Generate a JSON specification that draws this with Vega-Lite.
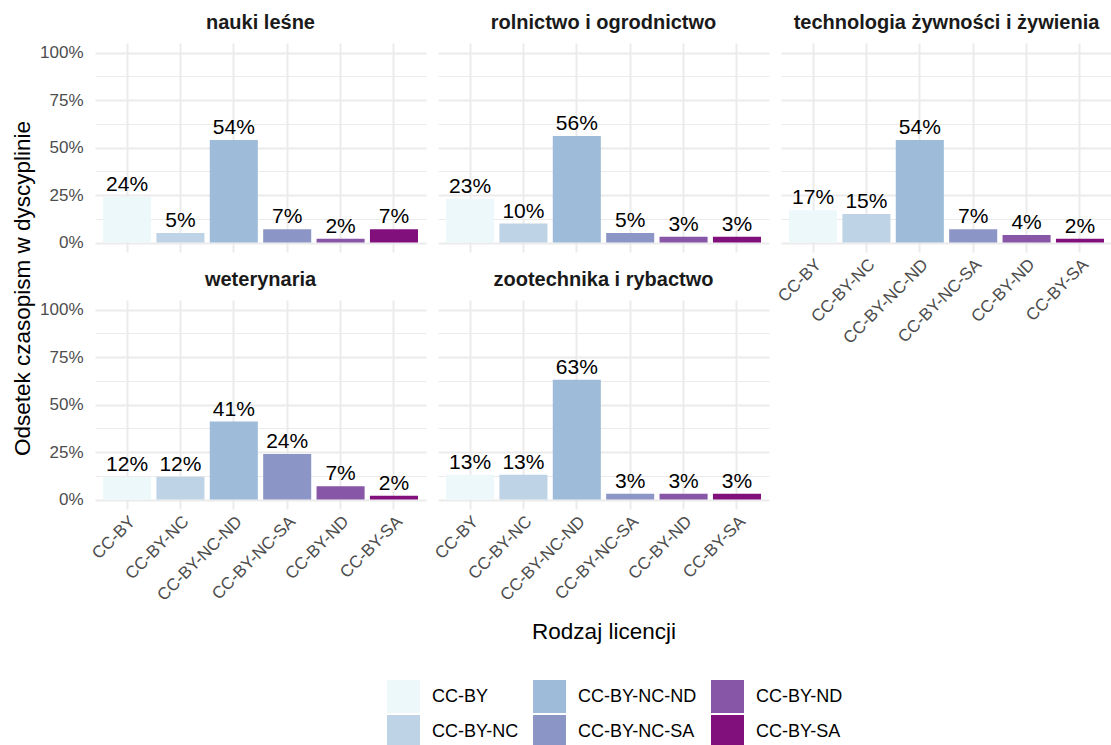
{
  "$schema": "https://vega.github.io/schema/vega-lite/v6.json",
  "background": "white",
  "padding": {"left": 10, "top": 13, "right": 0, "bottom": 0},
  "bounds": "flush",
  "columns": 3,
  "spacing": {"row": 48, "column": 12},
  "data": {"values": [
    {"d": "nauki leśne", "lic": "CC-BY", "v": 0.24},
    {"d": "nauki leśne", "lic": "CC-BY-NC", "v": 0.05},
    {"d": "nauki leśne", "lic": "CC-BY-NC-ND", "v": 0.54},
    {"d": "nauki leśne", "lic": "CC-BY-NC-SA", "v": 0.07},
    {"d": "nauki leśne", "lic": "CC-BY-ND", "v": 0.02},
    {"d": "nauki leśne", "lic": "CC-BY-SA", "v": 0.07},
    {"d": "rolnictwo i ogrodnictwo", "lic": "CC-BY", "v": 0.23},
    {"d": "rolnictwo i ogrodnictwo", "lic": "CC-BY-NC", "v": 0.10},
    {"d": "rolnictwo i ogrodnictwo", "lic": "CC-BY-NC-ND", "v": 0.56},
    {"d": "rolnictwo i ogrodnictwo", "lic": "CC-BY-NC-SA", "v": 0.05},
    {"d": "rolnictwo i ogrodnictwo", "lic": "CC-BY-ND", "v": 0.03},
    {"d": "rolnictwo i ogrodnictwo", "lic": "CC-BY-SA", "v": 0.03},
    {"d": "technologia żywności i żywienia", "lic": "CC-BY", "v": 0.17},
    {"d": "technologia żywności i żywienia", "lic": "CC-BY-NC", "v": 0.15},
    {"d": "technologia żywności i żywienia", "lic": "CC-BY-NC-ND", "v": 0.54},
    {"d": "technologia żywności i żywienia", "lic": "CC-BY-NC-SA", "v": 0.07},
    {"d": "technologia żywności i żywienia", "lic": "CC-BY-ND", "v": 0.04},
    {"d": "technologia żywności i żywienia", "lic": "CC-BY-SA", "v": 0.02},
    {"d": "weterynaria", "lic": "CC-BY", "v": 0.12},
    {"d": "weterynaria", "lic": "CC-BY-NC", "v": 0.12},
    {"d": "weterynaria", "lic": "CC-BY-NC-ND", "v": 0.41},
    {"d": "weterynaria", "lic": "CC-BY-NC-SA", "v": 0.24},
    {"d": "weterynaria", "lic": "CC-BY-ND", "v": 0.07},
    {"d": "weterynaria", "lic": "CC-BY-SA", "v": 0.02},
    {"d": "zootechnika i rybactwo", "lic": "CC-BY", "v": 0.13},
    {"d": "zootechnika i rybactwo", "lic": "CC-BY-NC", "v": 0.13},
    {"d": "zootechnika i rybactwo", "lic": "CC-BY-NC-ND", "v": 0.63},
    {"d": "zootechnika i rybactwo", "lic": "CC-BY-NC-SA", "v": 0.03},
    {"d": "zootechnika i rybactwo", "lic": "CC-BY-ND", "v": 0.03},
    {"d": "zootechnika i rybactwo", "lic": "CC-BY-SA", "v": 0.03}
  ]},
  "concat": [
    {
      "title": "nauki leśne",
      "width": 331, "height": 209,
      "transform": [{"filter": {"field": "d", "equal": "nauki leśne"}}],
      "encoding": {
        "x": {"field": "lic", "type": "nominal", "sort": ["CC-BY", "CC-BY-NC", "CC-BY-NC-ND", "CC-BY-NC-SA", "CC-BY-ND", "CC-BY-SA"],
          "scale": {"paddingInner": 0.1, "paddingOuter": 0.15},
          "axis": {"title": null, "labels": false, "bandPosition": 0.5, "grid": true, "gridColor": "#ebebeb", "gridWidth": 2, "ticks": false, "domain": false}},
        "y": {"field": "v", "type": "quantitative", "scale": {"domain": [-0.05, 1.05], "nice": false, "zero": false},
          "axis": {"title": "Odsetek czasopism w dyscyplinie", "titleX": -66, "titleY": 245, "titleBaseline": "alphabetic", "titleAlign": "center", "titleFontSize": 22.5, "titleFontWeight": "normal", "titleColor": "black", "titleFont": "Liberation Sans",
            "values": [0, 0.125, 0.25, 0.375, 0.5, 0.625, 0.75, 0.875, 1],
            "labelExpr": "round(datum.value*8) % 2 == 1 ? '' : format(datum.value, '.0%')",
            "gridColor": "#ebebeb", "gridWidth": {"condition": {"test": "round(datum.value*8) % 2 == 1", "value": 1}, "value": 2},
            "ticks": false, "domain": false, "labelPadding": 12, "labelFontSize": 17, "labelColor": "#4d4d4d", "labelFont": "Liberation Sans"}}
      },
      "layer": [
        {"mark": {"type": "bar"}, "encoding": {"y2": {"datum": 0},
          "color": {"field": "lic", "type": "nominal",
            "scale": {"domain": ["CC-BY", "CC-BY-NC", "CC-BY-NC-ND", "CC-BY-NC-SA", "CC-BY-ND", "CC-BY-SA"], "range": ["#edf8fb", "#bfd3e6", "#9ebcda", "#8c96c6", "#8856a7", "#810f7c"]},
            "legend": {"title": null, "orient": "none", "legendX": 292, "legendY": 637, "columns": 3, "symbolType": "square", "symbolSize": 1089, "symbolStrokeWidth": 0, "symbolOpacity": 1, "labelFontSize": 18, "labelFont": "Liberation Sans", "labelColor": "black", "labelOffset": 12, "columnPadding": 14, "rowPadding": 2}}}},
        {"mark": {"type": "text", "baseline": "alphabetic", "dy": -6, "fontSize": 21, "font": "Liberation Sans", "color": "black"},
          "encoding": {"text": {"field": "v", "type": "quantitative", "format": ".0%"}}}
      ]
    },
    {
      "title": "rolnictwo i ogrodnictwo",
      "width": 331, "height": 209,
      "transform": [{"filter": {"field": "d", "equal": "rolnictwo i ogrodnictwo"}}],
      "encoding": {
        "x": {"field": "lic", "type": "nominal", "sort": ["CC-BY", "CC-BY-NC", "CC-BY-NC-ND", "CC-BY-NC-SA", "CC-BY-ND", "CC-BY-SA"],
          "scale": {"paddingInner": 0.1, "paddingOuter": 0.15},
          "axis": {"title": null, "labels": false, "bandPosition": 0.5, "grid": true, "gridColor": "#ebebeb", "gridWidth": 2, "ticks": false, "domain": false}},
        "y": {"field": "v", "type": "quantitative", "scale": {"domain": [-0.05, 1.05], "nice": false, "zero": false},
          "axis": {"title": null, "labels": false, "values": [0, 0.125, 0.25, 0.375, 0.5, 0.625, 0.75, 0.875, 1],
            "gridColor": "#ebebeb", "gridWidth": {"condition": {"test": "round(datum.value*8) % 2 == 1", "value": 1}, "value": 2},
            "ticks": false, "domain": false}}
      },
      "layer": [
        {"mark": {"type": "bar"}, "encoding": {"y2": {"datum": 0},
          "color": {"field": "lic", "type": "nominal",
            "scale": {"domain": ["CC-BY", "CC-BY-NC", "CC-BY-NC-ND", "CC-BY-NC-SA", "CC-BY-ND", "CC-BY-SA"], "range": ["#edf8fb", "#bfd3e6", "#9ebcda", "#8c96c6", "#8856a7", "#810f7c"]},
            "legend": {"title": null, "orient": "none", "legendX": 292, "legendY": 637, "columns": 3, "symbolType": "square", "symbolSize": 1089, "symbolStrokeWidth": 0, "symbolOpacity": 1, "labelFontSize": 18, "labelFont": "Liberation Sans", "labelColor": "black", "labelOffset": 12, "columnPadding": 14, "rowPadding": 2}}}},
        {"mark": {"type": "text", "baseline": "alphabetic", "dy": -6, "fontSize": 21, "font": "Liberation Sans", "color": "black"},
          "encoding": {"text": {"field": "v", "type": "quantitative", "format": ".0%"}}}
      ]
    },
    {
      "title": "technologia żywności i żywienia",
      "width": 331, "height": 209,
      "transform": [{"filter": {"field": "d", "equal": "technologia żywności i żywienia"}}],
      "encoding": {
        "x": {"field": "lic", "type": "nominal", "sort": ["CC-BY", "CC-BY-NC", "CC-BY-NC-ND", "CC-BY-NC-SA", "CC-BY-ND", "CC-BY-SA"],
          "scale": {"paddingInner": 0.1, "paddingOuter": 0.15},
          "axis": {"title": null, "bandPosition": 0.5, "grid": true, "gridColor": "#ebebeb", "gridWidth": 2, "ticks": false, "domain": false, "labelAngle": -45, "labelAlign": "right", "labelBaseline": "top", "labelPadding": 4, "labelFontSize": 17, "labelColor": "#4d4d4d", "labelFont": "Liberation Sans"}},
        "y": {"field": "v", "type": "quantitative", "scale": {"domain": [-0.05, 1.05], "nice": false, "zero": false},
          "axis": {"title": null, "labels": false, "values": [0, 0.125, 0.25, 0.375, 0.5, 0.625, 0.75, 0.875, 1],
            "gridColor": "#ebebeb", "gridWidth": {"condition": {"test": "round(datum.value*8) % 2 == 1", "value": 1}, "value": 2},
            "ticks": false, "domain": false}}
      },
      "layer": [
        {"mark": {"type": "bar"}, "encoding": {"y2": {"datum": 0},
          "color": {"field": "lic", "type": "nominal",
            "scale": {"domain": ["CC-BY", "CC-BY-NC", "CC-BY-NC-ND", "CC-BY-NC-SA", "CC-BY-ND", "CC-BY-SA"], "range": ["#edf8fb", "#bfd3e6", "#9ebcda", "#8c96c6", "#8856a7", "#810f7c"]},
            "legend": {"title": null, "orient": "none", "legendX": 292, "legendY": 637, "columns": 3, "symbolType": "square", "symbolSize": 1089, "symbolStrokeWidth": 0, "symbolOpacity": 1, "labelFontSize": 18, "labelFont": "Liberation Sans", "labelColor": "black", "labelOffset": 12, "columnPadding": 14, "rowPadding": 2}}}},
        {"mark": {"type": "text", "baseline": "alphabetic", "dy": -6, "fontSize": 21, "font": "Liberation Sans", "color": "black"},
          "encoding": {"text": {"field": "v", "type": "quantitative", "format": ".0%"}}}
      ]
    },
    {
      "title": "weterynaria",
      "width": 331, "height": 209,
      "transform": [{"filter": {"field": "d", "equal": "weterynaria"}}],
      "encoding": {
        "x": {"field": "lic", "type": "nominal", "sort": ["CC-BY", "CC-BY-NC", "CC-BY-NC-ND", "CC-BY-NC-SA", "CC-BY-ND", "CC-BY-SA"],
          "scale": {"paddingInner": 0.1, "paddingOuter": 0.15},
          "axis": {"title": null, "bandPosition": 0.5, "grid": true, "gridColor": "#ebebeb", "gridWidth": 2, "ticks": false, "domain": false, "labelAngle": -45, "labelAlign": "right", "labelBaseline": "top", "labelPadding": 4, "labelFontSize": 17, "labelColor": "#4d4d4d", "labelFont": "Liberation Sans"}},
        "y": {"field": "v", "type": "quantitative", "scale": {"domain": [-0.05, 1.05], "nice": false, "zero": false},
          "axis": {"title": null,
            "values": [0, 0.125, 0.25, 0.375, 0.5, 0.625, 0.75, 0.875, 1],
            "labelExpr": "round(datum.value*8) % 2 == 1 ? '' : format(datum.value, '.0%')",
            "gridColor": "#ebebeb", "gridWidth": {"condition": {"test": "round(datum.value*8) % 2 == 1", "value": 1}, "value": 2},
            "ticks": false, "domain": false, "labelPadding": 12, "labelFontSize": 17, "labelColor": "#4d4d4d", "labelFont": "Liberation Sans"}}
      },
      "layer": [
        {"mark": {"type": "bar"}, "encoding": {"y2": {"datum": 0},
          "color": {"field": "lic", "type": "nominal",
            "scale": {"domain": ["CC-BY", "CC-BY-NC", "CC-BY-NC-ND", "CC-BY-NC-SA", "CC-BY-ND", "CC-BY-SA"], "range": ["#edf8fb", "#bfd3e6", "#9ebcda", "#8c96c6", "#8856a7", "#810f7c"]},
            "legend": {"title": null, "orient": "none", "legendX": 292, "legendY": 637, "columns": 3, "symbolType": "square", "symbolSize": 1089, "symbolStrokeWidth": 0, "symbolOpacity": 1, "labelFontSize": 18, "labelFont": "Liberation Sans", "labelColor": "black", "labelOffset": 12, "columnPadding": 14, "rowPadding": 2}}}},
        {"mark": {"type": "text", "baseline": "alphabetic", "dy": -6, "fontSize": 21, "font": "Liberation Sans", "color": "black"},
          "encoding": {"text": {"field": "v", "type": "quantitative", "format": ".0%"}}}
      ]
    },
    {
      "title": "zootechnika i rybactwo",
      "width": 331, "height": 209,
      "transform": [{"filter": {"field": "d", "equal": "zootechnika i rybactwo"}}],
      "encoding": {
        "x": {"field": "lic", "type": "nominal", "sort": ["CC-BY", "CC-BY-NC", "CC-BY-NC-ND", "CC-BY-NC-SA", "CC-BY-ND", "CC-BY-SA"],
          "scale": {"paddingInner": 0.1, "paddingOuter": 0.15},
          "axis": {"title": "Rodzaj licencji", "titleY": 129, "titleBaseline": "alphabetic", "titleFontSize": 22.5, "titleFontWeight": "normal", "titleColor": "black", "titleFont": "Liberation Sans",
            "bandPosition": 0.5, "grid": true, "gridColor": "#ebebeb", "gridWidth": 2, "ticks": false, "domain": false, "labelAngle": -45, "labelAlign": "right", "labelBaseline": "top", "labelPadding": 4, "labelFontSize": 17, "labelColor": "#4d4d4d", "labelFont": "Liberation Sans"}},
        "y": {"field": "v", "type": "quantitative", "scale": {"domain": [-0.05, 1.05], "nice": false, "zero": false},
          "axis": {"title": null, "labels": false, "values": [0, 0.125, 0.25, 0.375, 0.5, 0.625, 0.75, 0.875, 1],
            "gridColor": "#ebebeb", "gridWidth": {"condition": {"test": "round(datum.value*8) % 2 == 1", "value": 1}, "value": 2},
            "ticks": false, "domain": false}}
      },
      "layer": [
        {"mark": {"type": "bar"}, "encoding": {"y2": {"datum": 0},
          "color": {"field": "lic", "type": "nominal",
            "scale": {"domain": ["CC-BY", "CC-BY-NC", "CC-BY-NC-ND", "CC-BY-NC-SA", "CC-BY-ND", "CC-BY-SA"], "range": ["#edf8fb", "#bfd3e6", "#9ebcda", "#8c96c6", "#8856a7", "#810f7c"]},
            "legend": {"title": null, "orient": "none", "legendX": 292, "legendY": 637, "columns": 3, "symbolType": "square", "symbolSize": 1089, "symbolStrokeWidth": 0, "symbolOpacity": 1, "labelFontSize": 18, "labelFont": "Liberation Sans", "labelColor": "black", "labelOffset": 12, "columnPadding": 14, "rowPadding": 2}}}},
        {"mark": {"type": "text", "baseline": "alphabetic", "dy": -6, "fontSize": 21, "font": "Liberation Sans", "color": "black"},
          "encoding": {"text": {"field": "v", "type": "quantitative", "format": ".0%"}}}
      ]
    }
  ],
  "config": {
    "view": {"stroke": null},
    "font": "Liberation Sans",
    "title": {"fontSize": 20, "fontWeight": "bold", "color": "#1a1a1a", "font": "Liberation Sans", "anchor": "middle", "baseline": "alphabetic", "offset": 10, "frame": "group"}
  }
}
